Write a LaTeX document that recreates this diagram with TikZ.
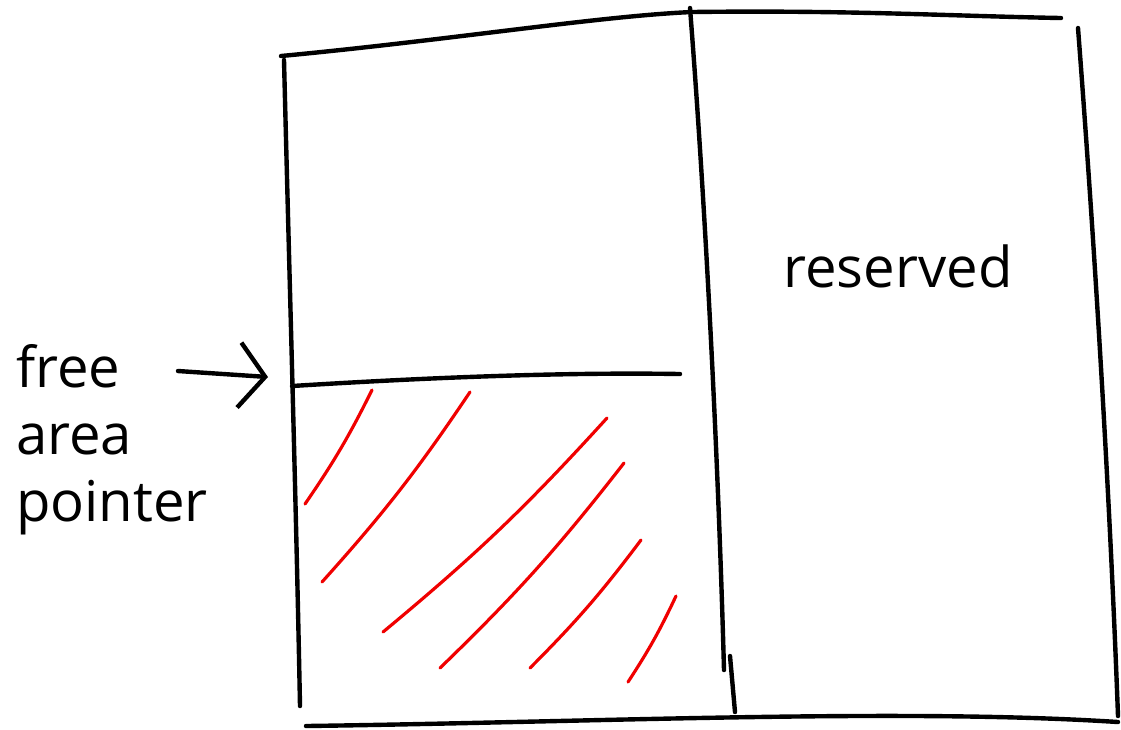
\documentclass[tikz,border=0pt]{standalone}
\usepackage{fontspec}
\setmainfont{Open Sans}
\usetikzlibrary{arrows.meta,positioning}
\definecolor{Ink}{HTML}{000000}
\definecolor{Hatch}{HTML}{F00000}
\tikzset{
  pen/.style={draw=Ink,line width=1.25pt,line cap=round,line join=round},
  hatch/.style={draw=Hatch,line width=0.9pt,line cap=round},
  label/.style={font=\fontsize{16}{19}\selectfont,text=Ink,inner sep=0pt},
  pointer/.style={pen,-{Straight Barb[length=2.6mm,width=6.5mm,line width=1.25pt]}}
}
\begin{document}
\begin{tikzpicture}[x=0.01cm,y=-0.01cm]
  \path[use as bounding box] (0,0) rectangle (1121,729);
  % outer frame
  \draw[pen] (281,56) .. controls (450,40) and (600,16) .. (692,12) .. controls (850,10) and (950,16) .. (1061,18);
  \draw[pen] (284,60) .. controls (290,300) and (296,500) .. (300,706);
  \draw[pen] (1078,28) .. controls (1095,250) and (1110,500) .. (1118,716);
  \draw[pen] (306,726) .. controls (600,722) and (900,708) .. (1118,722);
  % middle split
  \draw[pen] (690,8) .. controls (705,200) and (718,450) .. (724,670);
  \draw[pen] (730,656) -- (735,712);
  % divider of the left column
  \draw[pen] (292,386) .. controls (420,378) and (560,372) .. (680,374);
  % used (hatched) part
  \foreach \ax/\ay/\bx/\by in {372/390/305/504, 470/392/322/582, 607/418/383/632,
                               624/463/440/668, 641/540/530/668, 676/596/628/682}
    \draw[hatch] (\ax,\ay) to[bend left=4] (\bx,\by);
  % labels
  \node[label,align=left] (free) at (112,440) {free\\area\\pointer};
  \node[label] (reserved) at (898,266) {reserved};
  \coordinate (divtip) at (268,377);
  \draw[pointer] (178,371) -- (divtip);
\end{tikzpicture}
\end{document}
